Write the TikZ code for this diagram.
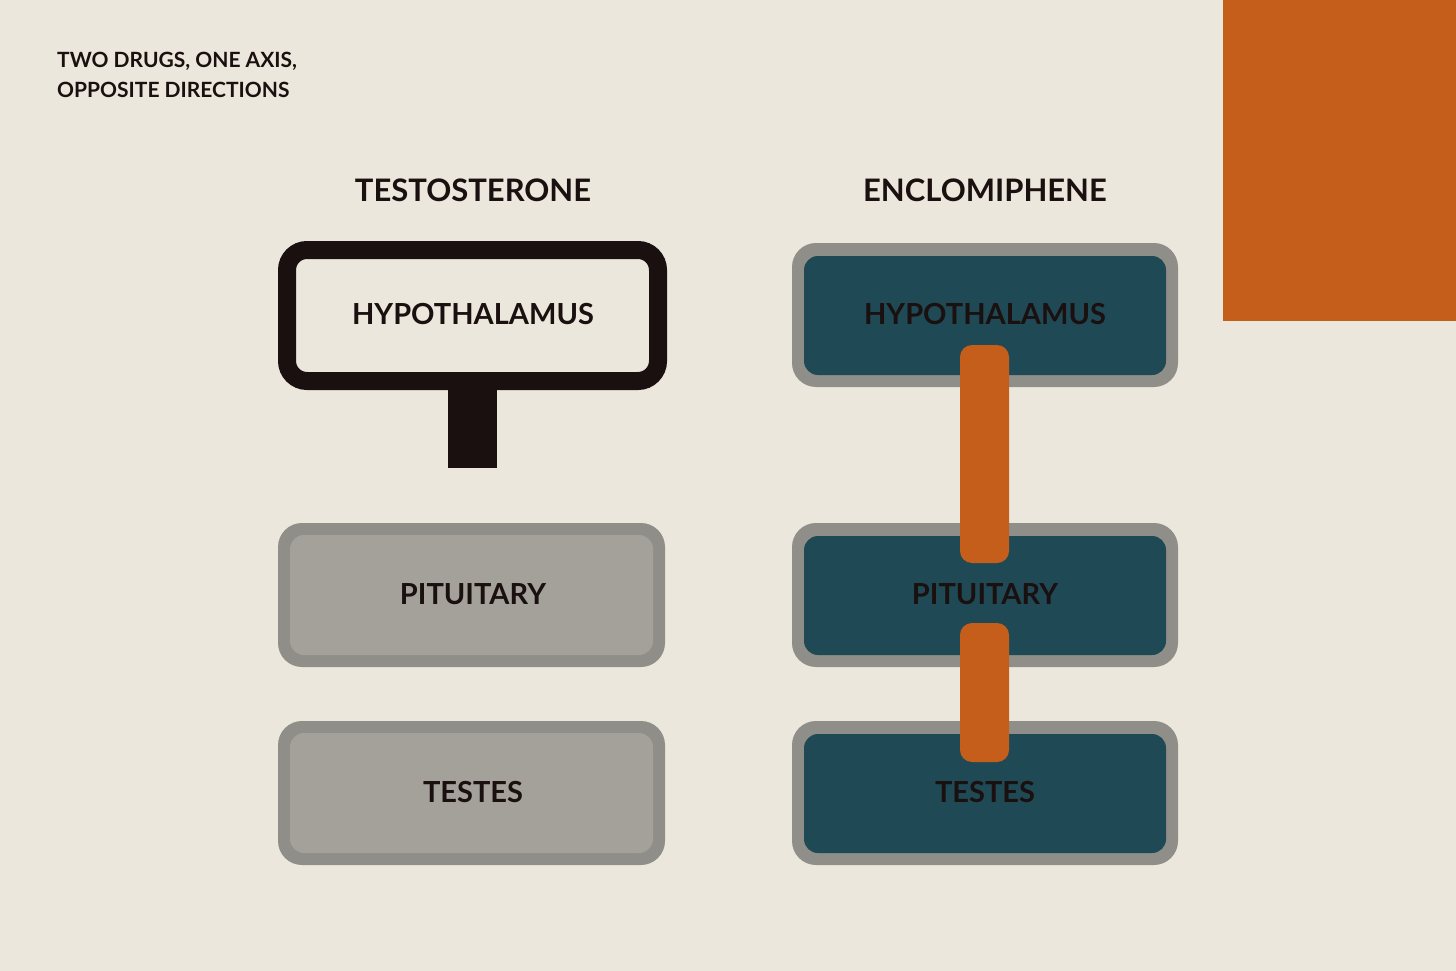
\documentclass[tikz,border=0pt]{standalone}
\usepackage{fontspec}
\setmainfont{Lato}
\definecolor{bg}{HTML}{ECE7DC}
\definecolor{org}{HTML}{C55E1A}
\definecolor{teal}{HTML}{1F4A55}
\definecolor{gout}{HTML}{8F8E88}
\definecolor{gin}{HTML}{A3A19A}
\definecolor{ink}{HTML}{1A1010}
\begin{document}
\begin{tikzpicture}[x=1pt,y=-1pt,
 lbl/.style={font=\fontsize{29}{30}\selectfont\bfseries,text=ink},
 hdr/.style={font=\fontsize{31}{32}\selectfont\bfseries,text=ink}]
\fill[bg] (0,0) rectangle (1456,971);
\useasboundingbox (0,0) rectangle (1456,971);
\fill[org] (1223,0) rectangle (1456,321);
\node[anchor=north west,align=left,font=\fontsize{21}{30}\selectfont\bfseries,text=ink,inner sep=0] (title) at (57,52) {TWO DRUGS, ONE AXIS,\\OPPOSITE DIRECTIONS};
\node[hdr] (h1) at (473,190) {TESTOSTERONE};
\node[hdr] (h2) at (985,190) {ENCLOMIPHENE};
% left
\fill[ink] (448,380) rectangle (497,468);
\draw[ink,line width=18pt,fill=bg,rounded corners=20pt] (287,250) rectangle (658,381);
\node[lbl] (lh) at (473,314) {HYPOTHALAMUS};
\foreach \y/\t/\n in {523/PITUITARY/lp,721/TESTES/lt}{
 \fill[gout,rounded corners=24pt] (278,\y) rectangle (665,\y+144);
 \fill[gin,rounded corners=14pt] (290,\y+12) rectangle (653,\y+132);
 \node[lbl] (\n) at (473,\y+71) {\t};}
% right
\foreach \y/\t/\n in {243/HYPOTHALAMUS/rh,523/PITUITARY/rp,721/TESTES/rt}{
 \fill[gout,rounded corners=24pt] (792,\y) rectangle (1178,\y+144);
 \fill[teal,rounded corners=14pt] (804,\y+13) rectangle (1166,\y+132);}
\fill[org,rounded corners=12pt] (960,345) rectangle (1009,563);
\fill[org,rounded corners=12pt] (960,623) rectangle (1009,762);
\node[lbl] (rh) at (985,314) {HYPOTHALAMUS};
\node[lbl] (rp) at (985,594) {PITUITARY};
\node[lbl] (rt) at (985,792) {TESTES};
\end{tikzpicture}
\end{document}
